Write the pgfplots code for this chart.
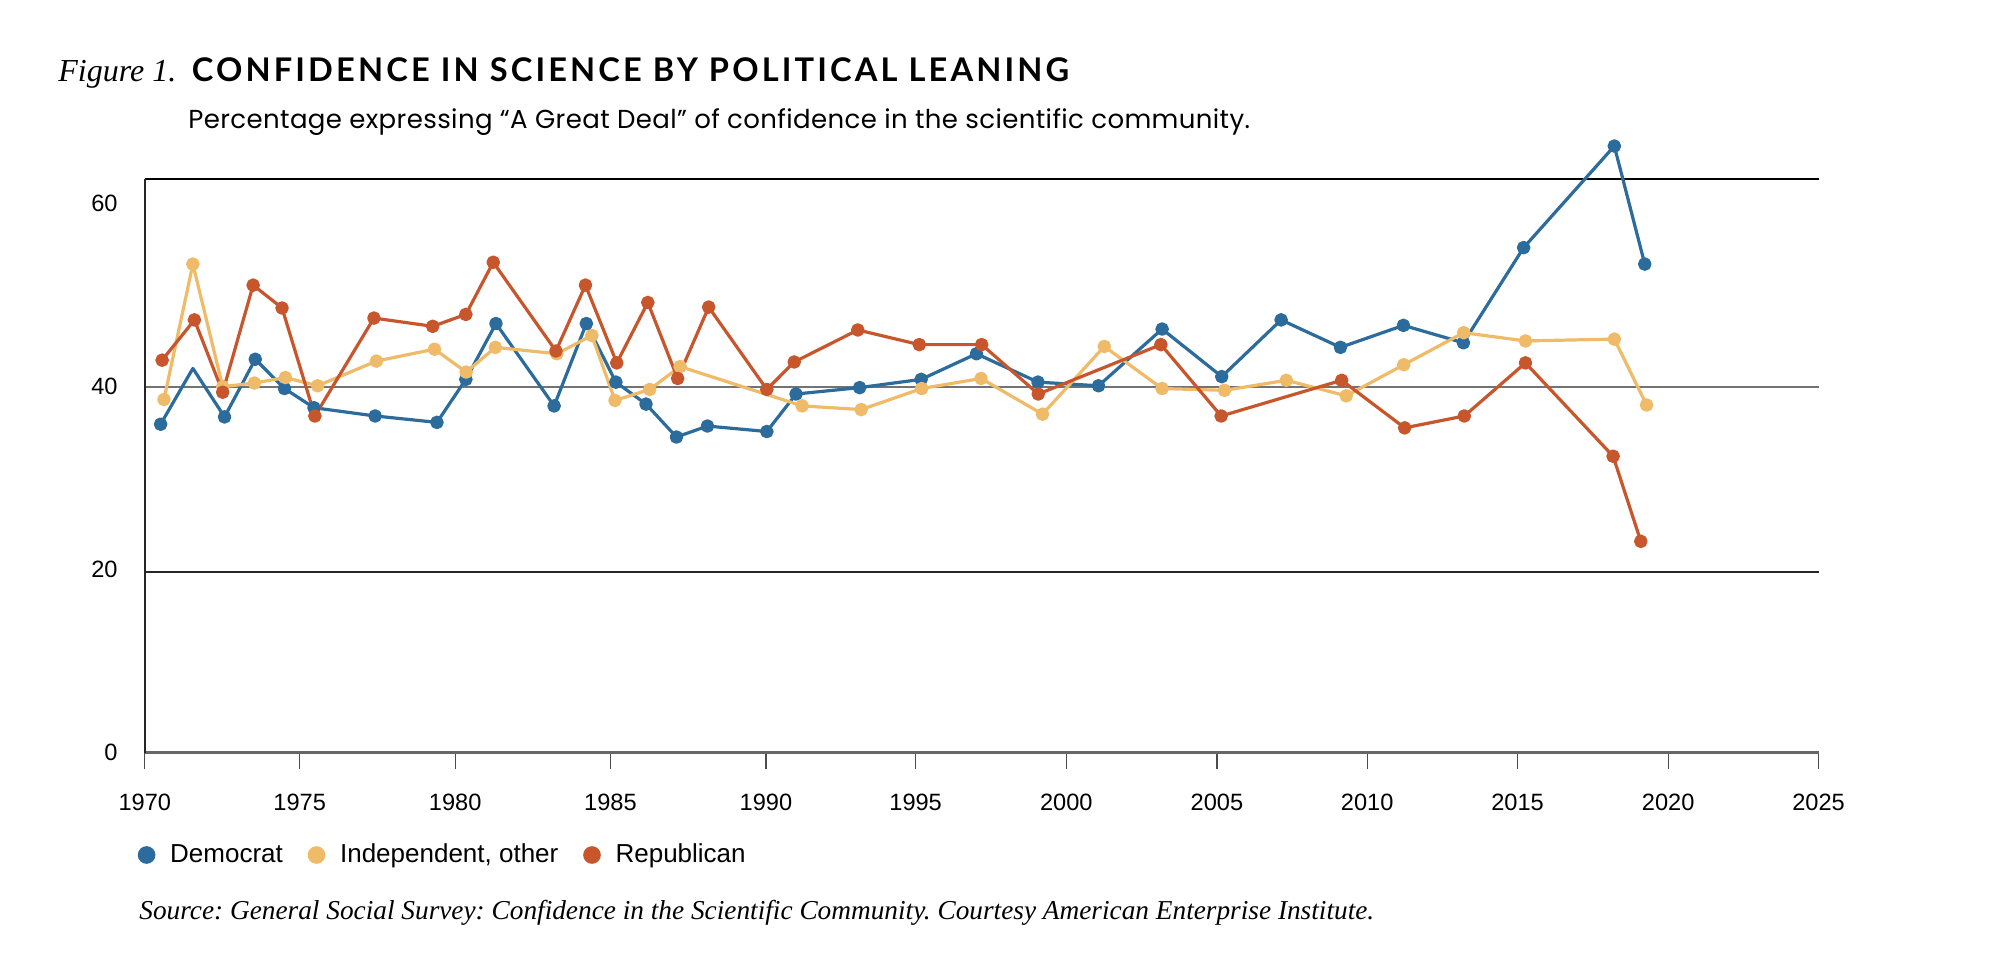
\documentclass[border=0pt]{standalone}
\usepackage{fontspec}
\setmainfont{Liberation Sans}
\newfontfamily\titlefont{Lato}[LetterSpace=9.6]
\newfontfamily\subfont{Poppins}[LetterSpace=1.5]
\newfontfamily\serifit{Liberation Serif}
\usepackage{pgfplots}
\pgfplotsset{compat=1.18}
\usepackage{pgfplotstable}
\definecolor{dem}{RGB}{43,108,156}
\definecolor{ind}{RGB}{240,187,104}
\definecolor{rep}{RGB}{200,86,44}
\frenchspacing

\pgfplotstableread{
year value
1970.52 35.9
1971.58 42.0
1972.62 36.7
1973.63 43.0
1974.59 39.8
1975.56 37.7
1977.57 36.8
1979.60 36.1
1980.55 40.8
1981.54 46.9
1983.45 37.9
1984.51 46.9
1985.48 40.5
1986.47 38.1
1987.47 34.5
1988.49 35.7
1990.44 35.1
1991.40 39.2
1993.49 39.9
1995.51 40.8
1997.33 43.6
1999.35 40.5
2001.34 40.1
2003.43 46.3
2005.39 41.1
2007.34 47.3
2009.29 44.3
2011.36 46.7
2013.33 44.8
2015.31 55.2
2018.29 66.3
2019.29 53.4
}\demtable

\pgfplotstableread{
year value
1970.63 38.6
1971.58 53.4
1972.56 40.0
1973.60 40.4
1974.62 41.0
1975.68 40.1
1977.61 42.8
1979.52 44.1
1980.56 41.6
1981.52 44.3
1983.54 43.6
1984.69 45.6
1985.45 38.5
1986.59 39.7
1987.59 42.2
1991.60 37.9
1993.54 37.5
1995.53 39.8
1997.48 40.9
1999.50 37.0
2001.53 44.4
2003.43 39.8
2005.48 39.6
2007.51 40.7
2009.48 39.0
2011.37 42.4
2013.34 45.9
2015.37 45.0
2018.29 45.2
2019.35 38.0
}\indtable

\pgfplotstableread{
year value
1970.57 42.9
1971.63 47.3
1972.56 39.4
1973.56 51.1
1974.51 48.6
1975.59 36.8
1977.53 47.5
1979.46 46.6
1980.55 47.9
1981.45 53.6
1983.51 43.9
1984.48 51.1
1985.51 42.6
1986.53 49.2
1987.51 40.9
1988.53 48.7
1990.44 39.7
1991.34 42.7
1993.43 46.2
1995.45 44.6
1997.50 44.6
1999.36 39.2
2003.39 44.6
2005.37 36.8
2009.33 40.7
2011.40 35.5
2013.36 36.8
2015.37 42.6
2018.25 32.4
2019.16 23.1
}\reptable

\begin{document}
\begin{tikzpicture}
\path[use as bounding box] (0pt,0pt) rectangle (1008pt,481pt);

\node[anchor=base west, inner sep=0pt] at (29pt,440.15pt)
  {\serifit\itshape\fontsize{16}{16}\selectfont Figure 1.};
\node[anchor=base west, inner sep=0pt] at (95.75pt,440.15pt)
  {\titlefont\bfseries\fontsize{16.3}{16.3}\selectfont CONFIDENCE IN SCIENCE BY POLITICAL LEANING};
\node[anchor=base west, inner sep=0pt] at (94pt,416.5pt)
  {\subfont\fontsize{13}{13}\selectfont Percentage expressing “A Great Deal” of confidence in the scientific community.};
\node[anchor=base west, inner sep=0pt] at (69.5pt,21pt)
  {\serifit\itshape\fontsize{13.65}{13.65}\selectfont Source: General Social Survey: Confidence in the Scientific Community. Courtesy American Enterprise Institute.};

\begin{axis}[
  at={(72.4pt,104.65pt)}, anchor=south west,
  scale only axis, width=836.85pt, height=320.25pt,
  xmin=1970, xmax=2025, ymin=0, ymax=70,
  clip=false,
  axis x line*=bottom, axis y line*=left,
  axis line style={draw=none},
  xtick={1970,1975.09,1980.20,1985.30,1990.41,1995.33,2000.28,2005.23,2010.17,2015.11,2020.06,2025},
  xticklabels={1970,1975,1980,1985,1990,1995,2000,2005,2010,2015,2020,2025},
  ytick={0,20,40,60},
  xtick align=outside, ytick align=inside,
  major tick length=8.3pt,
  xtick style={draw=black!70, line width=0.6pt},
  ytick style={draw=none},
  tick label style={font=\fontsize{11.8}{12}\selectfont},
  /pgf/number format/assume math mode=true,
  xticklabel style={anchor=north, inner sep=0pt, yshift=-12.2pt},
  yticklabel style={anchor=east, inner sep=0pt, xshift=-13.4pt},
  legend columns=-1,
  legend style={draw=none, fill=none, inner sep=0pt, outer sep=0pt,
    at={(axis description cs:0,0)}, anchor=west, xshift=-3.5pt, yshift=-51.15pt,
    font=\fontsize{13}{13}\selectfont,
    nodes={inner sep=0pt},
    /tikz/every odd column/.append style={column sep=7.4pt},
    /tikz/every even column/.append style={column sep=12.4pt}},
  legend image code/.code={\fill[#1] (0pt,0pt) circle (3.6pt);},
]
\draw[black!55, line width=1pt] (axis cs:1970,40) -- (axis cs:2025,40);
\draw[black!85, line width=1pt] (axis cs:1970,19.75) -- (axis cs:2025,19.75);
\draw[black!60, line width=1.2pt] (axis cs:1970,0) -- (axis cs:2025,0);
\draw[black, line width=0.7pt] (axis cs:1970,62.7) -- (axis cs:2025,62.7);
\draw[black!85, line width=0.7pt] (axis cs:1970,0) -- (axis cs:1970,62.7);

\addplot[color=dem, line width=1.6pt, line join=round, mark=*, mark size=2.6pt,
  mark options={solid},
  mark indices={1,3,4,5,6,7,8,9,10,11,12,13,14,15,16,17,18,19,20,21,22,23,24,25,26,27,28,29,30,31,32}]
  table[x=year, y=value] {\demtable};
\addlegendentry{Democrat}
\addplot[color=ind, line width=1.6pt, line join=round, mark=*, mark size=2.6pt, mark options={solid}]
  table[x=year, y=value] {\indtable};
\addlegendentry{Independent, other}
\addplot[color=rep, line width=1.6pt, line join=round, mark=*, mark size=2.6pt, mark options={solid}]
  table[x=year, y=value] {\reptable};
\addlegendentry{Republican}
\end{axis}
\end{tikzpicture}
\end{document}
